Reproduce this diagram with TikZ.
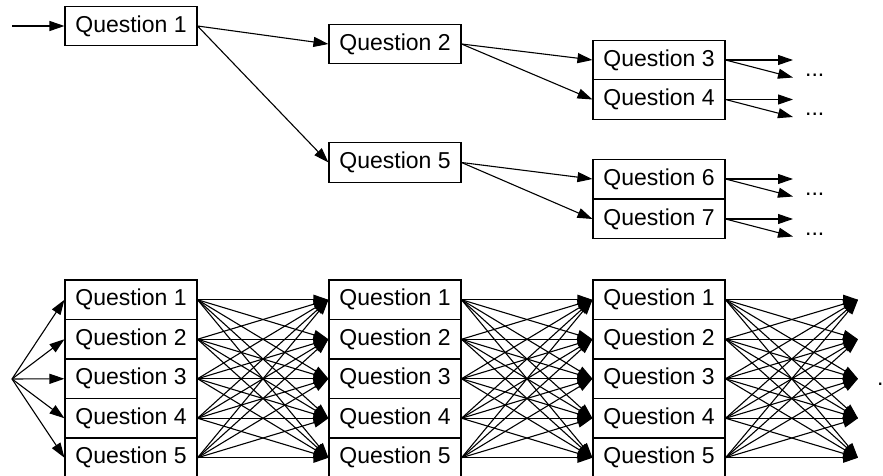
\documentclass[tikz,border=0pt]{standalone}
\usepackage{fontspec}
\setmainfont{Liberation Sans}
\usetikzlibrary{arrows.meta}
\begin{document}
\begin{tikzpicture}[x=1pt,y=-1pt,
  qbox/.style={draw, line width=1.1pt, minimum width=132pt, minimum height=39.5pt, inner sep=0pt, fill=white, font=\fontsize{23}{27}\selectfont},
  arr/.style={line width=1.1pt, -{Triangle[length=15pt,width=10pt]}},
  dotsl/.style={anchor=base west, inner sep=0pt, font=\fontsize{23}{27}\selectfont}]
\clip (0,0) rectangle (883,476);
% ---------- top tree ----------
\node[qbox] (q1) at (131,26) {Question 1};
\node[qbox] (q2) at (395,44) {Question 2};
\node[qbox] (q5) at (395,162.5) {Question 5};
\node[qbox] (q3) at (659,60) {Question 3};
\node[qbox] (q4) at (659,99.5) {Question 4};
\node[qbox] (q6) at (659,179) {Question 6};
\node[qbox] (q7) at (659,219) {Question 7};
\coordinate (in) at (12,26);
\draw[arr] (in) -- (q1.west);
\draw[arr] (q1.east) -- (q2.west);
\draw[arr] (q1.east) -- (q5.west);
\draw[arr] (q2.east) -- (q3.west);
\draw[arr] (q2.east) -- (q4.west);
\draw[arr] (q5.east) -- (q6.west);
\draw[arr] (q5.east) -- (q7.west);
\foreach \n/\y in {q3/60,q4/99.5,q6/179,q7/219}{
  \coordinate (\n h) at (793,\y);
  \coordinate (\n d) at (793,\y+17.5);
  \draw[arr] (\n.east) -- (\n h);
  \draw[arr] (\n.east) -- (\n d);
  \node[dotsl] (\n dots) at (805,\y+16.5) {...};
}
% ---------- bottom network ----------
\foreach \c/\x in {a/131,b/395,c/659}{
  \foreach \r in {1,...,5}{
    \node[qbox] (\c\r) at (\x,{299.75+(\r-1)*39.5}) {Question \r};
  }
}
\foreach \r in {1,...,5}{
  \coordinate (d\r) at (858,{299.75+(\r-1)*39.5});
}
\coordinate (src) at (12,379);
\foreach \r in {1,...,5}{
  \draw[arr] (src) -- (a\r.west);
}
\foreach \r in {1,...,5}{
  \foreach \s in {1,...,5}{
    \draw[arr] (a\r.east) -- (b\s.west);
    \draw[arr] (b\r.east) -- (c\s.west);
    \draw[arr] (c\r.east) -- (d\s);
  }
}
\node[dotsl] (enddot) at (877,385.5) {.};
\end{tikzpicture}
\end{document}
